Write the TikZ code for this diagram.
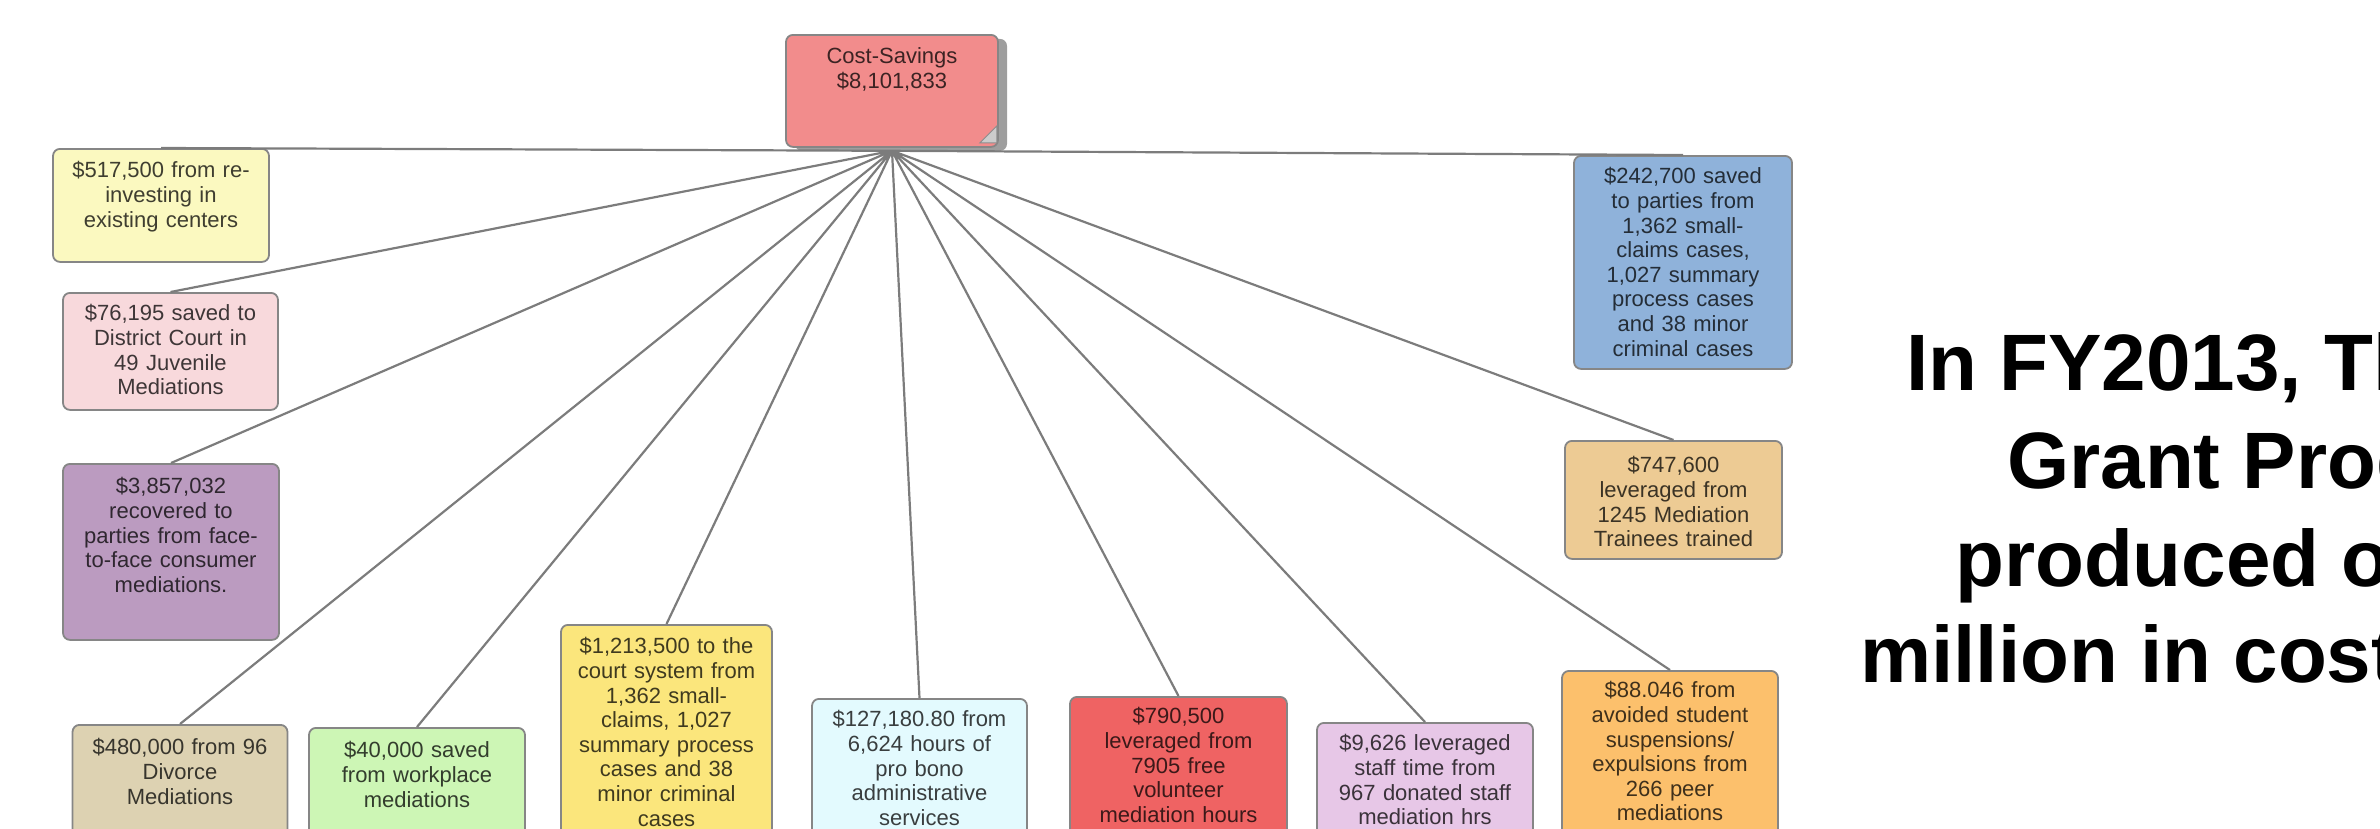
\documentclass[tikz,border=0pt]{standalone}
\usepackage{fontspec}
\setmainfont{Liberation Sans}
\usetikzlibrary{shadows}

\definecolor{spokegray}{HTML}{7C7C7C}
\definecolor{edgegray}{HTML}{868686}
\definecolor{rootpink}{HTML}{F28C8C}
\definecolor{paleyellow}{HTML}{FBF9C0}
\definecolor{palepink}{HTML}{F8D9DC}
\definecolor{mauve}{HTML}{BB9BC0}
\definecolor{khaki}{HTML}{DDD2B2}
\definecolor{mint}{HTML}{CDF6B5}
\definecolor{goldbox}{HTML}{FBE67C}
\definecolor{icecyan}{HTML}{E3FAFE}
\definecolor{coral}{HTML}{EF6363}
\definecolor{lilac}{HTML}{E7C7E7}
\definecolor{apricot}{HTML}{FCC06C}
\definecolor{steelbox}{HTML}{8FB2DA}
\definecolor{sand}{HTML}{EDCB94}

\tikzset{
  card/.style = {draw = edgegray, line width = 1.8pt, rounded corners = 7pt,
    fill = #1, text = #1!25!black, anchor = north, align = center,
    inner xsep = 0pt, inner ysep = 0pt, text height = 28pt,
    font = \fontsize{22}{24.6}\selectfont},
  cardsize/.style 2 args = {text width = #1pt, text depth = {#2pt-28pt}},
  spoke/.style = {draw = spokegray, line width = 2.2pt},
  headline/.style = {anchor = base west, inner sep = 0pt,
    font = \fontsize{80}{96}\selectfont\bfseries}
}

\begin{document}
\begin{tikzpicture}[x = 1pt, y = -1pt]

\useasboundingbox (0,0) rectangle (2380,828);
\clip (0,0) rectangle (2380,828);

% centre card
\node[card = rootpink, cardsize = {212}{112}, text height = 29pt, text depth = 83pt,
      general shadow = {fill = black!38, shadow xshift = 9pt, shadow yshift = -4pt}]
      (savings) at (892,34) {Cost-Savings\\\$8,101,833};
\filldraw[fill = black!20, draw = black!45, line width = 1pt]
  ([shift = {(-19,-5)}]savings.south east) --
  ([shift = {(-2,-22)}]savings.south east) --
  ([shift = {(-2,-5)}]savings.south east) -- cycle;
\coordinate (hub) at ([yshift = -3pt]savings.south);

% left column
\node[card = paleyellow, cardsize = {216}{112}, text height = 29pt] (reinvest) at (161,148)
  {\$517,500 from re-\\investing in\\existing centers};
\node[card = palepink, cardsize = {215}{117}] (juvenile) at (170.5,292)
  {\$76,195 saved to\\District Court in\\49 Juvenile\\Mediations};
\node[card = mauve, cardsize = {216}{176}, text height = 30pt, text depth = 146pt] (consumer) at (171,463)
  {\$3,857,032\\recovered to\\parties from face-\\to-face consumer\\mediations.};

% bottom row
\node[card = khaki, cardsize = {215}{200}, text height = 30pt] (divorce) at (180,724)
  {\$480,000 from 96\\Divorce\\Mediations};
\node[card = mint, cardsize = {216}{200}, text height = 30pt] (workplace) at (417,727)
  {\$40,000 saved\\from workplace\\mediations};
\node[card = goldbox, cardsize = {211}{260}, text height = 29pt] (court) at (666.5,624)
  {\$1,213,500 to the\\court system from\\1,362 small-\\claims, 1,027\\summary process\\cases and 38\\minor criminal\\cases};
\node[card = icecyan, cardsize = {215}{200}] (probono) at (919.5,698)
  {\$127,180.80 from\\6,624 hours of\\pro bono\\administrative\\services};
\node[card = coral, cardsize = {217}{200}, text height = 27pt] (volunteer) at (1178.5,696)
  {\$790,500\\leveraged from\\7905 free\\volunteer\\mediation hours};
\node[card = lilac, cardsize = {216}{200}] (staff) at (1425,722)
  {\$9,626 leveraged\\staff time from\\967 donated staff\\mediation hrs};
\node[card = apricot, cardsize = {216}{200}, text height = 27pt] (peer) at (1670,670)
  {\$88.046 from\\avoided student\\suspensions/\\expulsions from\\266 peer\\mediations};

% right column
\node[card = steelbox, cardsize = {218}{213}] (parties) at (1683,155)
  {\$242,700 saved\\to parties from\\1,362 small-\\claims cases,\\1,027 summary\\process cases\\and 38 minor\\criminal cases};
\node[card = sand, cardsize = {217}{118}, text height = 32pt, text depth = 86pt] (trainees) at (1673.5,440)
  {\$747,600\\leveraged from\\1245 Mediation\\Trainees trained};

\draw[spoke] (hub) -- (reinvest.north)
  (hub) -- (juvenile.north)
  (hub) -- (consumer.north)
  (hub) -- (divorce.north)
  (hub) -- (workplace.north)
  (hub) -- (court.north)
  (hub) -- (probono.north)
  (hub) -- (volunteer.north)
  (hub) -- (staff.north)
  (hub) -- (peer.north)
  (hub) -- (parties.north)
  (hub) -- (trainees.north);

% headline, cut by the right edge
\node[headline] (line1) at (1906,390) {In FY2013, Th};
\node[headline] (line2) at (2007,488) {Grant Prog};
\node[headline] (line3) at (1955,586) {produced o};
\node[headline] (line4) at (1860,682) {million in cost};

\end{tikzpicture}
\end{document}
